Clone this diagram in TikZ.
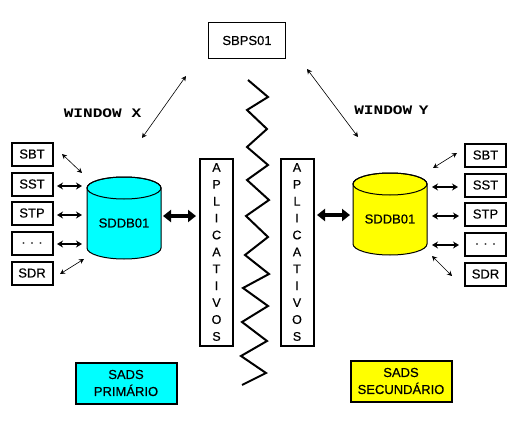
\documentclass[tikz,border=0pt]{standalone}
\usepackage{fontspec}
\setmainfont{Liberation Sans}[RawFeature={embolden=0.5}]
\newfontfamily\winfont{Liberation Mono}[FakeStretch=1.24]
\usetikzlibrary{arrows.meta}
\tikzset{
  x=1pt,y=-1pt,
  lbl/.style={font=\fontsize{13}{15}\selectfont,inner sep=0pt,align=center},
  smallbox/.style={draw=black,line width=2pt,minimum width=41pt,minimum height=23pt,inner sep=0pt,font=\fontsize{13}{15}\selectfont},
  appbox/.style={draw=black,line width=2pt,minimum width=33pt,minimum height=187pt,inner sep=0pt,align=center,font=\fontsize{12.5}{16.9}\selectfont},
  sadsbox/.style={draw=black,line width=2pt,minimum width=101pt,minimum height=41pt,inner sep=0pt,align=center,font=\fontsize{13}{17}\selectfont},
  winlabel/.style={inner sep=0pt,font=\winfont\bfseries\fontsize{13}{15}\selectfont},
  thin arrow/.style={line width=0.6pt,{Stealth[length=5pt,width=5pt]}-{Stealth[length=5pt,width=5pt]}},
  mid arrow/.style={line width=1.4pt,{Stealth[length=6pt,width=7pt]}-{Stealth[length=6pt,width=7pt]}},
  thick arrow/.style={line width=3.4pt,{Stealth[length=8pt,width=12pt,inset=0pt]}-{Stealth[length=8pt,width=12pt,inset=0pt]}},
  zig/.style={line width=2pt,line join=miter,black},
  cyl/.style={draw=black,line width=1pt},
}
\definecolor{sadscyan}{RGB}{0,255,255}
\definecolor{sadsyellow}{RGB}{255,255,0}
\begin{document}
\begin{tikzpicture}
\useasboundingbox (0,0) rectangle (520,423);
\fill[white] (0,0) rectangle (520,423);

% top box
\node[draw=black,line width=1pt,minimum width=77pt,minimum height=36pt,inner sep=0pt,font=\fontsize{13}{15}\selectfont] (sbps) at (247,40.5) {SBPS01};

% cylinders
\path[cyl,fill=sadscyan] (87,188) -- (87,248) arc[start angle=180,end angle=0,x radius=37,y radius=11] -- (161,188) arc[start angle=0,end angle=-180,x radius=37,y radius=11] -- cycle;
\draw[cyl] (124,188) ellipse[x radius=37,y radius=11];
\path[cyl,fill=sadsyellow] (353,184) -- (353,244) arc[start angle=180,end angle=0,x radius=37,y radius=11] -- (427,184) arc[start angle=0,end angle=-180,x radius=37,y radius=11] -- cycle;
\draw[cyl] (390,184) ellipse[x radius=37,y radius=11];
\node[lbl] (dbl) at (124,223) {SDDB01};
\node[lbl] (dbr) at (390,219) {SDDB01};

% left small boxes
\node[smallbox] (lsbt) at (32,154) {SBT};
\node[smallbox] (lsst) at (32,184) {SST};
\node[smallbox] (lstp) at (32,213) {STP};
\node[smallbox] (ldot) at (32,243) {. . .};
\node[smallbox] (lsdr) at (32,273) {SDR};
% right small boxes
\node[smallbox] (rsbt) at (485.5,155) {SBT};
\node[smallbox] (rsst) at (485.5,185) {SST};
\node[smallbox] (rstp) at (485.5,214) {STP};
\node[smallbox] (rdot) at (485.5,244) {. . .};
\node[smallbox] (rsdr) at (485.5,274) {SDR};

% aplicativos
\node[appbox] (appl) at (216.5,252) {A\\P\\L\\I\\C\\A\\T\\I\\V\\O\\S};
\node[appbox] (appr) at (297,252) {A\\P\\L\\I\\C\\A\\T\\I\\V\\O\\S};

% sads
\node[sadsbox,fill=sadscyan] (sadsp) at (126,383) {SADS\\PRIMÁRIO};
\node[sadsbox,fill=sadsyellow] (sadss) at (401,381) {SADS\\SECUNDÁRIO};

% window labels
\node[winlabel] (winx) at (102.5,113.5) {WINDOW X};
\node[winlabel] (winy) at (391.5,110) {WINDOW\kern-3pt\ Y};

% connector ends
\coordinate (a1) at (62,154);  \coordinate (a2) at (82,173);
\coordinate (b1) at (57,186);  \coordinate (b2) at (82,186);
\coordinate (c1) at (57,215);  \coordinate (c2) at (82,215);
\coordinate (d1) at (57,244);  \coordinate (d2) at (82,244);
\coordinate (e1) at (60,274);  \coordinate (e2) at (84,259);
\coordinate (f1) at (433,168); \coordinate (f2) at (457,153);
\coordinate (g1) at (432,187); \coordinate (g2) at (458,187);
\coordinate (h1) at (432,216); \coordinate (h2) at (459,216);
\coordinate (i1) at (432,245); \coordinate (i2) at (459,245);
\coordinate (j1) at (432,256); \coordinate (j2) at (452,276);
\coordinate (k1) at (163,216); \coordinate (k2) at (196,216);
\coordinate (l1) at (317,215); \coordinate (l2) at (350,215);
\coordinate (m1) at (186,76);  \coordinate (m2) at (142,138);
\coordinate (n1) at (307,69);  \coordinate (n2) at (358,137);

\draw[thin arrow] (a1) -- (a2);
\draw[mid arrow] (b1) -- (b2);
\draw[mid arrow] (c1) -- (c2);
\draw[mid arrow] (d1) -- (d2);
\draw[thin arrow] (e1) -- (e2);
\draw[thin arrow] (f1) -- (f2);
\draw[mid arrow] (g1) -- (g2);
\draw[mid arrow] (h1) -- (h2);
\draw[mid arrow] (i1) -- (i2);
\draw[thin arrow] (j1) -- (j2);
\draw[thick arrow] (k1) -- (k2);
\draw[thick arrow] (l1) -- (l2);
\draw[thin arrow] (m1) -- (m2);
\draw[thin arrow] (n1) -- (n2);

% zigzag
\draw[zig] (248,80) -- (268,97) -- (247,110) -- (267,129) -- (247,147) -- (268,165)
  -- (247,180) -- (269,200) -- (246,216) -- (268,237) -- (245,255) -- (269,274)
  -- (243,288) -- (268,306) -- (242,322) -- (267,341) -- (241,356) -- (266,373) -- (242,385);
\end{tikzpicture}
\end{document}
